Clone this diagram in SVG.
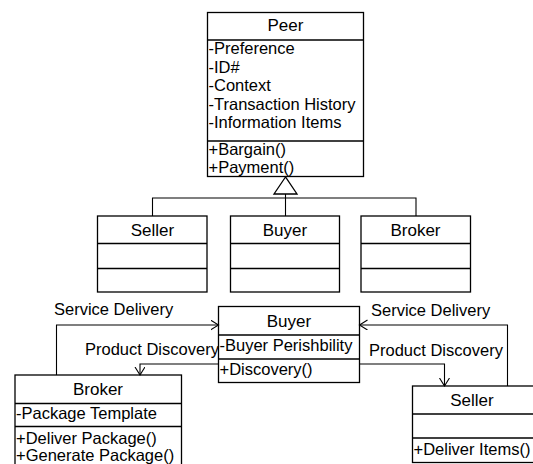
<svg xmlns="http://www.w3.org/2000/svg" width="533" height="464" viewBox="0 0 533 464">
  <style>
    .box { fill: #ffffff; stroke: #000000; stroke-width: 1.3; }
    .sep { stroke: #000000; stroke-width: 1.3; fill: none; }
    .edge { stroke: #000000; stroke-width: 1.1; fill: none; }
    text { font-family: "Liberation Sans", Arial, sans-serif; font-size: 16.5px; fill: #000000; }
    .title { text-anchor: middle; font-size: 17px; }
  </style>
  <defs>
    <marker id="openArrow" markerUnits="userSpaceOnUse" markerWidth="12" markerHeight="12" refX="8" refY="5" orient="auto">
      <path d="M0,0 L8,5 L0,10" fill="none" stroke="#000000" stroke-width="1.1"/>
    </marker>
  </defs>
  <rect x="0" y="0" width="533" height="464" fill="#ffffff"/>

  <!-- generalization: Peer and its three subclasses -->
  <g id="peer">
    <rect class="box" x="207.5" y="12.5" width="156" height="164"/>
    <line class="sep" x1="207.5" y1="40" x2="363.5" y2="40"/>
    <line class="sep" x1="207.5" y1="141" x2="363.5" y2="141"/>
    <text class="title" x="285.5" y="31">Peer</text>
    <text x="208.5" y="54">-Preference</text>
    <text x="208.5" y="72.5">-ID#</text>
    <text x="208.5" y="91">-Context</text>
    <text x="208.5" y="109.5">-Transaction History</text>
    <text x="208.5" y="128">-Information Items</text>
    <text x="208.5" y="154.5">+Bargain()</text>
    <text x="208.5" y="172.5">+Payment()</text>
  </g>

  <g id="seller-class">
    <rect class="box" x="97.5" y="216" width="109.5" height="76"/>
    <line class="sep" x1="97.5" y1="243.5" x2="207" y2="243.5"/>
    <line class="sep" x1="97.5" y1="268.5" x2="207" y2="268.5"/>
    <text class="title" x="152.5" y="236">Seller</text>
  </g>

  <g id="buyer-class">
    <rect class="box" x="230.5" y="216" width="109" height="76"/>
    <line class="sep" x1="230.5" y1="243.5" x2="339.5" y2="243.5"/>
    <line class="sep" x1="230.5" y1="268.5" x2="339.5" y2="268.5"/>
    <text class="title" x="285" y="236">Buyer</text>
  </g>

  <g id="broker-class">
    <rect class="box" x="361" y="216" width="109.5" height="76"/>
    <line class="sep" x1="361" y1="243.5" x2="470.5" y2="243.5"/>
    <line class="sep" x1="361" y1="268.5" x2="470.5" y2="268.5"/>
    <text class="title" x="415.5" y="236">Broker</text>
  </g>

  <!-- interaction between the roles -->
  <g id="buyer">
    <rect class="box" x="218.5" y="306.5" width="141" height="76"/>
    <line class="sep" x1="218.5" y1="335" x2="359.5" y2="335"/>
    <line class="sep" x1="218.5" y1="359" x2="359.5" y2="359"/>
    <text class="title" x="289" y="326.5">Buyer</text>
    <text x="219.5" y="351">-Buyer Perishbility</text>
    <text x="219.5" y="375">+Discovery()</text>
  </g>

  <g id="broker">
    <rect class="box" x="15" y="375" width="166.5" height="100"/>
    <line class="sep" x1="15" y1="403.5" x2="181.5" y2="403.5"/>
    <line class="sep" x1="15" y1="426.5" x2="181.5" y2="426.5"/>
    <text class="title" x="98" y="394.5">Broker</text>
    <text x="16" y="418.5">-Package Template</text>
    <text x="16" y="443.5">+Deliver Package()</text>
    <text x="16" y="460.5">+Generate Package()</text>
  </g>

  <g id="seller">
    <rect class="box" x="412.5" y="386" width="125" height="76.5"/>
    <line class="sep" x1="412.5" y1="414" x2="537.5" y2="414"/>
    <line class="sep" x1="412.5" y1="438" x2="537.5" y2="438"/>
    <text class="title" x="472" y="405.5">Seller</text>
    <text x="413.5" y="455">+Deliver Items()</text>
  </g>

  <g id="connectors">
    <!-- inheritance tree -->
    <polygon points="285.5,177 274,194 297,194" fill="#ffffff" stroke="#000000" stroke-width="1.3"/>
    <line class="edge" x1="285.5" y1="194" x2="285.5" y2="216"/>
    <polyline class="edge" points="152.5,216 152.5,198 416,198 416,216"/>

    <!-- Broker / Buyer -->
    <polyline class="edge" points="56.5,375 56.5,325 218.5,325" marker-end="url(#openArrow)"/>
    <polyline class="edge" points="218.5,364 140,364 140,375" marker-end="url(#openArrow)"/>

    <!-- Seller / Buyer -->
    <polyline class="edge" points="507.5,386 507.5,325 359.5,325" marker-end="url(#openArrow)"/>
    <polyline class="edge" points="359.5,364 444.5,364 444.5,386" marker-end="url(#openArrow)"/>

    <text x="54" y="315">Service Delivery</text>
    <text x="85" y="355">Product Discovery</text>
    <text x="371" y="316">Service Delivery</text>
    <text x="369" y="356">Product Discovery</text>
  </g>
</svg>
